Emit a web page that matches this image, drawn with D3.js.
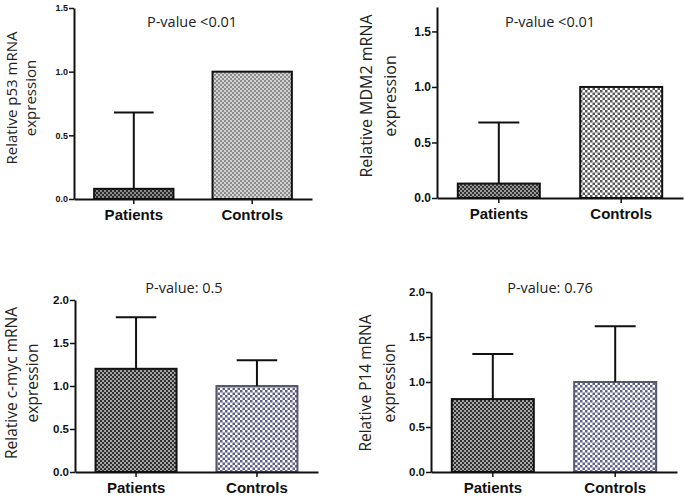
<!DOCTYPE html>
<meta charset="utf-8">
<html>
<script src="https://d3js.org/d3.v7.min.js"></script>
<style>
    body { margin: 0; background: #fff; }
    .cat { font-family: "Liberation Sans", Arial, sans-serif; font-weight: bold; font-size: 15px; }
    .ylab { font-family: "Open Sans", sans-serif; fill: #222; }
    .pval { font-family: "Open Sans", sans-serif; font-size: 14.5px; fill: #222; }
</style>
<body>
<div id="chart"></div>
<script>

    // Values
    var categories = ["Patients", "Controls"];
    var genes = ["p53", "MDM2", "c-myc", "P14"];
    var pLabels = ["P-value <0.01", "P-value <0.01", "P-value: 0.5", "P-value: 0.76"];
    var means = [[0.08, 1.0], [0.13, 1.0], [1.2, 1.0], [0.81, 1.0]];
    var sds = [[0.60, 0], [0.55, 0], [0.60, 0.30], [0.50, 0.62]];
    var yMax = [1.5, 1.72, 2, 2];
    var yTicks = [[0, 0.5, 1, 1.5], [0, 0.5, 1, 1.5], [0, 0.5, 1, 1.5, 2], [0, 0.5, 1, 1.5, 2]];

    // Panel layout (pixels)
    var panels = [
        { x0: 74, x1: 312, yb: 199, yt: 8, tickFont: 9, labFont: 15, lx: [11, 30], ly: 98, px: 192, py: 27, fills: ["p1a", "p1b"], strokes: ["#111", "#111"] },
        { x0: 437, x1: 683, yb: 198, yt: 7, tickFont: 12, labFont: 16, lx: [366, 390], ly: 96, px: 550, py: 27, fills: ["p2a", "p2b"], strokes: ["#111", "#111"] },
        { x0: 75, x1: 318, yb: 472, yt: 300, tickFont: 11.5, labFont: 15.5, lx: [11, 32], ly: 383, px: 184, py: 293, fills: ["p3a", "p3b"], strokes: ["#111", "#55586e"] },
        { x0: 431, x1: 677, yb: 472, yt: 292, tickFont: 11.5, labFont: 15.5, lx: [365, 389], ly: 383, px: 550, py: 293, fills: ["p4a", "p4b"], strokes: ["#111", "#55586e"] }
    ];

    var svg = d3.select("#chart")
        .append("svg")
        .attr("width", 685)
        .attr("height", 499);

    // Checker patterns for bar fills
    var pats = [
        { id: "p1a", c: 2, dark: "#2c2c2c", light: "#8a8a8a" },
        { id: "p1b", c: 2, dark: "#8c8c8c", light: "#d2d2d2" },
        { id: "p2a", c: 2, dark: "#333", light: "#9a9a9a" },
        { id: "p2b", c: 2.5, dark: "#585858", light: "#fff" },
        { id: "p3a", c: 2, dark: "#303030", light: "#a4a4a4" },
        { id: "p3b", c: 2.5, dark: "#5e5e86", light: "#fff" },
        { id: "p4a", c: 2, dark: "#303030", light: "#a8a8a8" },
        { id: "p4b", c: 2.5, dark: "#63638a", light: "#fff" }
    ];
    var defs = svg.append("defs");
    pats.forEach(function (p) {
        var pat = defs.append("pattern")
            .attr("id", p.id)
            .attr("patternUnits", "userSpaceOnUse")
            .attr("width", p.c * 2)
            .attr("height", p.c * 2);
        pat.append("rect").attr("width", p.c * 2).attr("height", p.c * 2).attr("fill", p.light);
        pat.append("rect").attr("width", p.c).attr("height", p.c).attr("fill", p.dark);
        pat.append("rect").attr("x", p.c).attr("y", p.c).attr("width", p.c).attr("height", p.c).attr("fill", p.dark);
    });

    panels.forEach(function (pn, k) {
        var g = svg.append("g");

        var x = d3.scaleBand()
            .domain(categories)
            .range([pn.x0, pn.x1])
            .paddingInner(0.33)
            .paddingOuter(0.17);

        var y = d3.scaleLinear()
            .domain([0, yMax[k]])
            .range([pn.yb, pn.yt]);

        var rows = categories.map(function (c, i) {
            return { cat: c, mean: means[k][i], sd: sds[k][i], i: i };
        });

        // Bars
        g.selectAll(".bar")
            .data(rows)
            .enter()
            .append("rect")
            .attr("x", function (d) { return x(d.cat); })
            .attr("y", function (d) { return y(d.mean); })
            .attr("width", x.bandwidth())
            .attr("height", function (d) { return y(0) - y(d.mean); })
            .attr("fill", function (d) { return "url(#" + pn.fills[d.i] + ")"; })
            .attr("stroke", function (d) { return pn.strokes[d.i]; })
            .attr("stroke-width", 2);

        // Error bars (upper only)
        var eb = rows.filter(function (d) { return d.sd > 0; });
        g.selectAll(".err")
            .data(eb)
            .enter()
            .append("line")
            .attr("x1", function (d) { return x(d.cat) + x.bandwidth() / 2; })
            .attr("x2", function (d) { return x(d.cat) + x.bandwidth() / 2; })
            .attr("y1", function (d) { return y(d.mean); })
            .attr("y2", function (d) { return y(d.mean + d.sd); })
            .attr("stroke", "#111")
            .attr("stroke-width", 2);
        g.selectAll(".cap")
            .data(eb)
            .enter()
            .append("line")
            .attr("x1", function (d) { return x(d.cat) + x.bandwidth() / 2 - x.bandwidth() / 4; })
            .attr("x2", function (d) { return x(d.cat) + x.bandwidth() / 2 + x.bandwidth() / 4; })
            .attr("y1", function (d) { return y(d.mean + d.sd); })
            .attr("y2", function (d) { return y(d.mean + d.sd); })
            .attr("stroke", "#111")
            .attr("stroke-width", 2);

        // Y axis
        var ya = g.append("g")
            .attr("transform", "translate(" + pn.x0 + ",0)")
            .call(d3.axisLeft(y).tickValues(yTicks[k]).tickFormat(d3.format(".1f")).tickSize(5).tickSizeOuter(0));
        ya.select(".domain").attr("stroke", "#111").attr("stroke-width", 2);
        ya.selectAll(".tick line").attr("stroke", "#111").attr("stroke-width", 1.5);
        ya.selectAll(".tick text")
            .attr("x", -6)
            .style("font-family", "Liberation Sans, Arial, sans-serif")
            .style("font-weight", "bold")
            .style("font-size", pn.tickFont + "px")
            .attr("fill", "#111");

        // X axis
        var xa = g.append("g")
            .attr("transform", "translate(0," + pn.yb + ")")
            .call(d3.axisBottom(x).tickSize(5).tickSizeOuter(0));
        xa.select(".domain").attr("stroke", "#111").attr("stroke-width", 2);
        xa.selectAll(".tick line").attr("stroke", "#111").attr("stroke-width", 1.5);
        xa.selectAll(".tick text")
            .attr("class", "cat")
            .attr("y", 10)
            .attr("fill", "#111");

        // Y label (two lines)
        g.append("text")
            .attr("class", "ylab")
            .attr("transform", "translate(" + pn.lx[0] + "," + pn.ly + ") rotate(-90)")
            .attr("text-anchor", "middle")
            .attr("dominant-baseline", "central")
            .style("font-size", pn.labFont + "px")
            .text("Relative  " + genes[k] + " mRNA");
        g.append("text")
            .attr("class", "ylab")
            .attr("transform", "translate(" + pn.lx[1] + "," + pn.ly + ") rotate(-90)")
            .attr("text-anchor", "middle")
            .attr("dominant-baseline", "central")
            .style("font-size", pn.labFont + "px")
            .text("expression");

        // P-value
        g.append("text")
            .attr("class", "pval")
            .attr("x", pn.px)
            .attr("y", pn.py)
            .attr("text-anchor", "middle")
            .text(pLabels[k]);
    });

</script>
</body>
</html>
